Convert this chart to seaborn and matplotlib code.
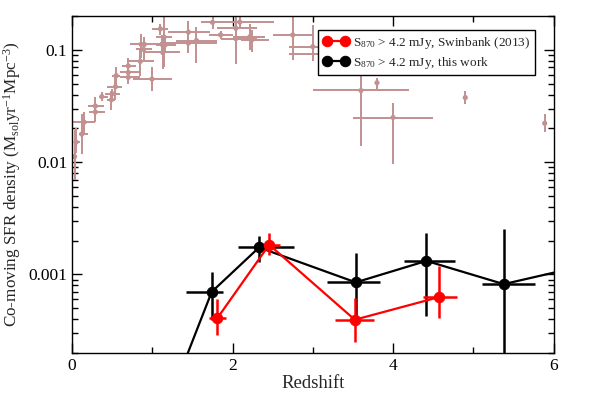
import numpy as np
import pandas as pd
import matplotlib
matplotlib.use("Agg")
import matplotlib.pyplot as plt
from matplotlib.ticker import LogLocator, NullFormatter, FixedLocator
import seaborn as sns

# compilation of literature SFR densities (brown points)
lit_z = [0.03, 0.05, 0.12, 0.15, 0.29, 0.29, 0.37, 0.50, 0.49, 0.54, 0.55, 0.70, 0.70, 0.70,
         0.85, 0.995, 0.86, 0.90, 0.89, 1.10, 1.12, 1.13, 1.16, 1.145, 1.45, 1.55, 1.45, 1.75,
         1.85, 2.04, 2.09, 2.04, 2.215, 2.24, 2.75, 3.0, 3.1, 3.6, 3.8, 4.0, 4.9, 5.89]
lit_z_lo = [0.0, 0.02, 0.08, 0.0, 0.21, 0.2, 0.33, 0.41, 0.44, 0.44, 0.5, 0.6, 0.6, 0.62,
            0.7, 0.76, 0.72, 0.8, 0.8, 1.0, 1.0, 0.9, 1.05, 1.05, 1.2, 1.3, 1.1, 1.65,
            1.7, 1.8, 1.61, 1.85, 2.0, 2.1, 2.5, 2.7, 2.7, 3.0, 3.8, 3.5, 4.9, 5.89]
lit_z_hi = [0.05, 0.1, 0.2, 0.29, 0.41, 0.4, 0.45, 0.6, 0.54, 0.62, 0.6, 0.84, 0.84, 0.8,
            1.02, 1.24, 1.0, 1.0, 1.0, 1.2, 1.25, 1.35, 1.3, 1.25, 1.72, 1.8, 1.8, 1.85,
            2.0, 2.3, 2.51, 2.3, 2.4, 2.45, 3.0, 3.4, 3.4, 4.2, 3.8, 4.5, 4.9, 5.89]
lit_sfr = [0.0112, 0.0151, 0.0178, 0.0227, 0.028, 0.0316, 0.0384, 0.0406, 0.036, 0.047, 0.059,
           0.057, 0.063, 0.072, 0.079, 0.055, 0.112, 0.112, 0.101, 0.154, 0.112, 0.095, 0.111,
           0.13, 0.144, 0.121, 0.115, 0.176, 0.136, 0.156, 0.177, 0.126, 0.131, 0.123, 0.136,
           0.107, 0.0916, 0.0435, 0.051, 0.025, 0.0376, 0.0222]
lit_sfr_lo = [0.0069, 0.012, 0.0118, 0.018, 0.023, 0.026, 0.035, 0.037, 0.029, 0.036, 0.048,
              0.05, 0.056, 0.06, 0.058, 0.043, 0.085, 0.09, 0.08, 0.135, 0.09, 0.068, 0.095,
              0.07, 0.093, 0.076, 0.1, 0.155, 0.125, 0.076, 0.16, 0.075, 0.1, 0.095, 0.081,
              0.08, 0.07, 0.0138, 0.045, 0.0097, 0.0328, 0.0187]
lit_sfr_hi = [0.0195, 0.02, 0.027, 0.028, 0.034, 0.038, 0.042, 0.045, 0.043, 0.06, 0.071,
              0.065, 0.07, 0.085, 0.1, 0.071, 0.14, 0.13, 0.12, 0.17, 0.135, 0.13, 0.13,
              0.2, 0.18, 0.16, 0.13, 0.2, 0.148, 0.2, 0.2, 0.15, 0.17, 0.15, 0.2,
              0.167, 0.12, 0.13, 0.056, 0.034, 0.043, 0.0269]

# Swinbank (2013)
sw_z = [1.81, 2.456, 3.523, 4.573]
sw_z_lo = [1.70, 2.39, 3.28, 4.37]
sw_z_hi = [1.92, 2.59, 3.76, 4.80]
sw_sfr = [4.08e-4, 1.84e-3, 3.95e-4, 6.28e-4]
sw_sfr_lo = [2.9e-4, 1.5e-3, 2.5e-4, 4.08e-4]
sw_sfr_hi = [6.0e-4, 2.33e-3, 6.2e-4, 1.18e-3]

# this work (first and last bins fall outside the plotted range)
tw_z = [1.2, 1.74, 2.33, 3.535, 4.416, 5.38, 6.6]
tw_z_lo = [1.2, 1.42, 2.07, 3.18, 4.14, 5.11, 6.6]
tw_z_hi = [1.2, 1.88, 2.76, 3.84, 4.77, 5.77, 6.6]
tw_sfr = [7.2e-5, 7.0e-4, 1.74e-3, 8.5e-4, 1.32e-3, 8.2e-4, 1.3e-3]
tw_sfr_lo = [7.2e-5, 3.9e-4, 1.28e-3, 3.9e-4, 4.27e-4, 1e-5, 1.3e-3]
tw_sfr_hi = [7.2e-5, 1.06e-3, 2.21e-3, 1.55e-3, 2.36e-3, 2.53e-3, 1.3e-3]

sns.set_theme(style="ticks")
plt.rcParams["font.family"] = ["Liberation Serif", "DejaVu Serif"]
plt.rcParams["mathtext.fontset"] = "custom"
plt.rcParams["mathtext.rm"] = "Liberation Serif"
plt.rcParams["mathtext.default"] = "regular"

fig = plt.figure(figsize=(6.01, 3.93), dpi=100)
ax = fig.add_axes([0.12, 0.102, 0.801, 0.857])

def xy_err(x, xlo, xhi, y, ylo, yhi):
    x, xlo, xhi = np.array(x), np.array(xlo), np.array(xhi)
    y, ylo, yhi = np.array(y), np.array(ylo), np.array(yhi)
    return [x - xlo, xhi - x], [y - ylo, yhi - y]

brown = "#c29191"
xe, ye = xy_err(lit_z, lit_z_lo, lit_z_hi, lit_sfr, lit_sfr_lo, lit_sfr_hi)
ax.errorbar(lit_z, lit_sfr, xerr=xe, yerr=ye, fmt="none", ecolor=brown, elinewidth=1.4,
            capsize=0, zorder=1)
sns.scatterplot(x=lit_z, y=lit_sfr, color=brown, s=14, edgecolor="none", ax=ax, zorder=2)

xe, ye = xy_err(tw_z, tw_z_lo, tw_z_hi, tw_sfr, tw_sfr_lo, tw_sfr_hi)
ax.errorbar(tw_z, tw_sfr, xerr=xe, yerr=ye, fmt="none", ecolor="black", elinewidth=1.8,
            capsize=0, zorder=3)
tw = pd.DataFrame({"z": tw_z, "sfr": tw_sfr})
sns.lineplot(data=tw, x="z", y="sfr", color="black", lw=1.6, marker="o", markersize=7.5,
             markeredgecolor="black", ax=ax, zorder=4, label=r"S$_{870}$ > 4.2 mJy, this work")

xe, ye = xy_err(sw_z, sw_z_lo, sw_z_hi, sw_sfr, sw_sfr_lo, sw_sfr_hi)
ax.errorbar(sw_z, sw_sfr, xerr=xe, yerr=ye, fmt="none", ecolor="red", elinewidth=1.8,
            capsize=0, zorder=5)
sw = pd.DataFrame({"z": sw_z, "sfr": sw_sfr})
sns.lineplot(data=sw, x="z", y="sfr", color="red", lw=1.6, marker="o", markersize=7.5,
             markeredgecolor="red", ax=ax, zorder=6, label=r"S$_{870}$ > 4.2 mJy, Swinbank (2013)")

ax.set_yscale("log")
ax.set_xlim(0, 6)
ax.set_ylim(2e-4, 0.2)
ax.xaxis.set_major_locator(FixedLocator([0, 2, 4, 6]))
ax.xaxis.set_minor_locator(FixedLocator([1, 3, 5]))
ax.yaxis.set_major_locator(FixedLocator([0.001, 0.01, 0.1]))
ax.yaxis.set_minor_locator(LogLocator(base=10, subs=np.arange(2, 10), numticks=20))
ax.yaxis.set_minor_formatter(NullFormatter())
ax.set_yticklabels(["0.001", "0.01", "0.1"])
ax.tick_params(which="both", direction="in", top=True, right=True, bottom=True, left=True,
               labelsize=12.5, colors="black")
ax.tick_params(which="major", length=7, width=1)
ax.tick_params(which="minor", length=4, width=1)
for sp in ax.spines.values():
    sp.set_linewidth(1.0)
    sp.set_color("black")

ax.set_xlabel("Redshift", fontsize=13.5, labelpad=1)
ax.set_ylabel(r"Co-moving SFR density (M$_{sol}$yr$^{-1}$Mpc$^{-3}$)", fontsize=12.3, labelpad=4)

handles, labels = ax.get_legend_handles_labels()
leg = ax.legend(handles[::-1], labels[::-1], loc="upper right", bbox_to_anchor=(0.961, 0.958),
                borderaxespad=0, numpoints=2, handlelength=2.0, handletextpad=0.25,
                fontsize=9.5, frameon=True, fancybox=False, edgecolor="black",
                framealpha=1, borderpad=0.35, labelspacing=0.3)
leg.get_frame().set_linewidth(1.0)
leg.set_zorder(10)

fig.savefig("out.png", dpi=100)
